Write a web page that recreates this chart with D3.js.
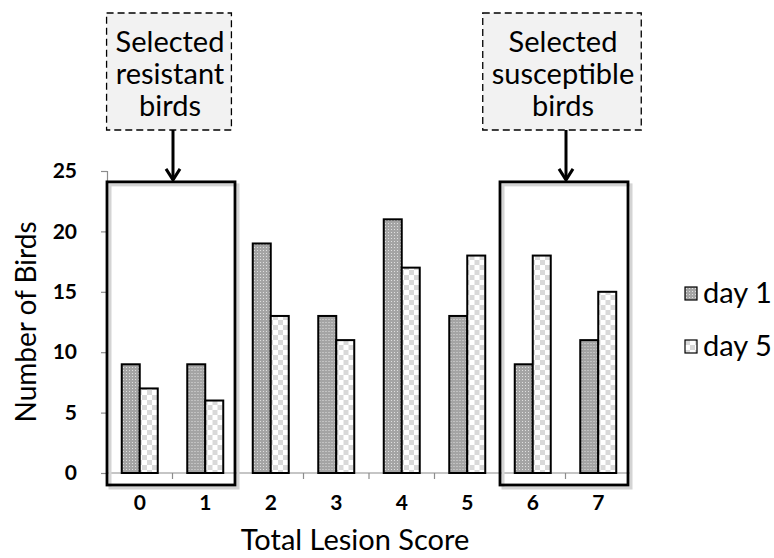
<!DOCTYPE html>
<html>
<head>
<meta charset="utf-8">
<script src="https://cdn.jsdelivr.net/npm/d3@7"></script>
<style>
  body { margin: 0; background: #fff; }
  svg text { font-family: Lato, "Liberation Sans", sans-serif; fill: #000; }
</style>
</head>
<body>
<div id="chart"></div>
<script>
// data
const scores = ["0", "1", "2", "3", "4", "5", "6", "7"];
const seriesNames = ["day 1", "day 5"];
const day1 = [9, 9, 19, 13, 21, 13, 9, 11];
const day5 = [7, 6, 13, 11, 17, 18, 18, 15];
const yTicks = [0, 5, 10, 15, 20, 25];
const resistantScores = ["0", "1"];
const susceptibleScores = ["6", "7"];
const resistantLabel = ["Selected", "resistant", "birds"];
const susceptibleLabel = ["Selected", "susceptible", "birds"];

const width = 774, height = 558;
const margin = { top: 171, right: 143, bottom: 85, left: 107 };

const svg = d3.select("#chart").append("svg")
  .attr("width", width)
  .attr("height", height);

svg.append("rect").attr("width", width).attr("height", height).attr("fill", "#fff");

// patterns: dotted grey for day 1, light checkers for day 5
const defs = svg.append("defs");
const dots = defs.append("pattern")
  .attr("id", "pat-day1")
  .attr("patternUnits", "userSpaceOnUse")
  .attr("width", 3).attr("height", 3);
dots.append("rect").attr("width", 3).attr("height", 3).attr("fill", "#a4a4a4");
dots.append("rect").attr("x", 1).attr("y", 1).attr("width", 1).attr("height", 1).attr("fill", "#e0e0e0");

const checks = defs.append("pattern")
  .attr("id", "pat-day5")
  .attr("patternUnits", "userSpaceOnUse")
  .attr("width", 10).attr("height", 10);
checks.append("rect").attr("width", 10).attr("height", 10).attr("fill", "#fff");
checks.append("rect").attr("width", 5).attr("height", 5).attr("fill", "#d9d9d9");
checks.append("rect").attr("x", 5).attr("y", 5).attr("width", 5).attr("height", 5).attr("fill", "#d9d9d9");

const fills = { "day 1": "url(#pat-day1)", "day 5": "url(#pat-day5)" };

const x = d3.scaleBand()
  .domain(scores)
  .range([margin.left, width - margin.right])
  .padding(0);

const barW = 18;
const xSub = d3.scaleBand()
  .domain(seriesNames)
  .range([(x.bandwidth() - 2 * barW) / 2, (x.bandwidth() + 2 * barW) / 2]);

const y = d3.scaleLinear()
  .domain([0, 25])
  .range([height - margin.bottom, margin.top]);

// y axis
const yAxis = svg.append("g")
  .attr("transform", `translate(${margin.left},0)`)
  .call(d3.axisLeft(y).tickValues(yTicks).tickSize(6).tickPadding(24));
yAxis.select(".domain").attr("stroke", "#8c8c8c").attr("stroke-width", 1.2);
yAxis.selectAll(".tick line").attr("stroke", "#8c8c8c").attr("stroke-width", 1.2);
yAxis.selectAll(".tick text")
  .style("font-family", "Lato, 'Liberation Sans', sans-serif")
  .style("font-size", "21px").style("font-weight", "bold");

// x axis, ticks sit between the categories
const xAxisG = svg.append("g")
  .attr("transform", `translate(0,${y(0)})`);
xAxisG.append("line")
  .attr("x1", margin.left).attr("x2", width - margin.right)
  .attr("stroke", "#8c8c8c").attr("stroke-width", 1.2);
xAxisG.selectAll(".xt")
  .data(scores)
  .join("line")
  .attr("class", "xt")
  .attr("x1", d => x(d) + x.bandwidth())
  .attr("x2", d => x(d) + x.bandwidth())
  .attr("y1", 0).attr("y2", 6)
  .attr("stroke", "#8c8c8c").attr("stroke-width", 1.2);
xAxisG.selectAll(".xl")
  .data(scores)
  .join("text")
  .attr("class", "xl")
  .attr("x", d => x(d) + x.bandwidth() / 2)
  .attr("y", 37)
  .attr("text-anchor", "middle")
  .style("font-size", "21px").style("font-weight", "bold")
  .text(d => d);

// bars
const rows = scores.map((s, i) => ({ score: s, values: [
  { key: "day 1", value: day1[i] },
  { key: "day 5", value: day5[i] }
] }));

svg.append("g")
  .selectAll("g")
  .data(rows)
  .join("g")
  .attr("transform", d => `translate(${x(d.score)},0)`)
  .selectAll("rect")
  .data(d => d.values)
  .join("rect")
  .attr("x", d => xSub(d.key))
  .attr("y", d => y(d.value))
  .attr("width", xSub.bandwidth())
  .attr("height", d => y(0) - y(d.value))
  .attr("fill", d => fills[d.key])
  .attr("stroke", "#000")
  .attr("stroke-width", 2);

// selection frame + dashed callout with arrow
function selection(group, lines) {
  const x0 = x(group[0]);
  const x1 = x(group[group.length - 1]) + x.bandwidth() - 3;
  const top = y(24.1), bottom = y(0) + 12;
  const g = svg.append("g");
  // soft shadow
  g.append("rect")
    .attr("x", x0 + 3).attr("y", top + 3)
    .attr("width", x1 - x0).attr("height", bottom - top)
    .attr("fill", "none").attr("stroke", "#d4d4d4").attr("stroke-width", 3);
  g.append("rect")
    .attr("x", x0).attr("y", top)
    .attr("width", x1 - x0).attr("height", bottom - top)
    .attr("fill", "none").attr("stroke", "#000").attr("stroke-width", 2.8);

  const cx = (x0 + x1) / 2 + 2;
  const bx = cx - 4;
  const boxTop = 13, boxBottom = 130;
  const callout = svg.append("g");
  const box = callout.append("rect")
    .attr("fill", "#f2f2f2")
    .attr("stroke", "#000")
    .attr("stroke-width", 1.3)
    .attr("stroke-dasharray", "7,4");
  const texts = callout.selectAll("text")
    .data(lines)
    .join("text")
    .attr("x", bx + 1)
    .attr("y", (d, i) => 52 + i * 32)
    .attr("text-anchor", "middle")
    .style("font-size", "29px")
    .text(d => d);
  const maxW = d3.max(texts.nodes(), n => n.getComputedTextLength());
  const bw = maxW + 16;
  box.attr("x", bx - bw / 2).attr("y", boxTop)
    .attr("width", bw).attr("height", boxBottom - boxTop);

  callout.append("line")
    .attr("x1", cx).attr("x2", cx)
    .attr("y1", boxBottom).attr("y2", top - 2)
    .attr("stroke", "#000").attr("stroke-width", 3);
  callout.append("path")
    .attr("d", `M${cx - 7},${top - 13} L${cx},${top - 2} L${cx + 7},${top - 13}`)
    .attr("fill", "none").attr("stroke", "#000").attr("stroke-width", 3);
}
selection(resistantScores, resistantLabel);
selection(susceptibleScores, susceptibleLabel);

// legend
const legend = svg.append("g")
  .selectAll("g")
  .data(seriesNames)
  .join("g")
  .attr("transform", (d, i) => `translate(685,${287 + i * 53})`);
legend.append("rect")
  .attr("width", 12).attr("height", 13)
  .attr("fill", d => fills[d])
  .attr("stroke", "#000").attr("stroke-width", 1.2);
legend.append("text")
  .attr("x", 18).attr("y", 16)
  .style("font-size", "29px")
  .text(d => d);

// axis titles
svg.append("text")
  .attr("transform", `translate(36,${(y(0) + y(25)) / 2}) rotate(-90)`)
  .attr("text-anchor", "middle")
  .style("font-size", "28px")
  .text("Number of Birds");

svg.append("text")
  .attr("x", (margin.left + width - margin.right) / 2 - 14)
  .attr("y", 550)
  .attr("text-anchor", "middle")
  .style("font-size", "29px")
  .text("Total Lesion Score");
</script>
</body>
</html>
